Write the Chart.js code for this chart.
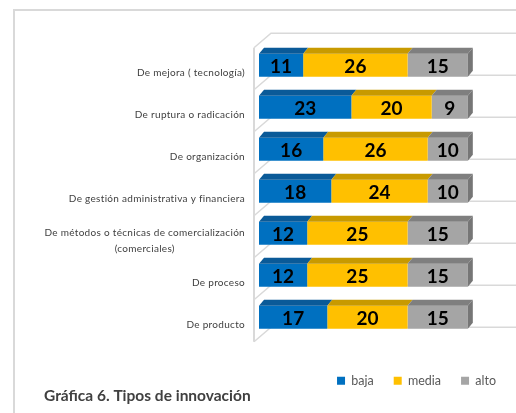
<!DOCTYPE html>
<html>
<head>
<meta charset="utf-8">
<script src="https://cdn.jsdelivr.net/npm/chart.js@4.4.1/dist/chart.umd.min.js"></script>
<style>
  html, body { margin: 0; padding: 0; background: #ffffff; }
  #contenedor { position: relative; width: 516px; height: 413px; }
</style>
</head>
<body>
<div id="contenedor"><canvas id="graficaInnovacion"></canvas></div>
<script>
// Datos de la gráfica
const categorias = [
    'De mejora ( tecnología)',
    'De ruptura o radicación',
    'De organización',
    'De gestión administrativa y financiera',
    ['De métodos o técnicas de comercialización', '(comerciales)'],
    'De proceso',
    'De producto'
];
const series = ['baja', 'media', 'alto'];
const valoresBaja = [11, 23, 16, 18, 12, 12, 17];
const valoresMedia = [26, 20, 26, 24, 25, 25, 20];
const valoresAlto = [15, 9, 10, 10, 15, 15, 15];
const titulo = 'Gráfica 6. Tipos de innovación';

// Colores (cara frontal, cara superior)
const coloresFrente = ['#0070C0', '#FFC000', '#A5A5A5'];
const coloresArriba = ['#0A5A98', '#C89A00', '#7F7F7F'];
const colorLado = '#767676';
const colorRejilla = '#D9D9D9';
const fuente = "'Lato', 'Noto Sans', sans-serif";

// Profundidad del efecto 3D
const prof = { dx: 5, dy: 6 };

// Marco gris del recuadro
const pluginMarco = {
    id: 'marco',
    beforeDraw(chart) {
        const ctx = chart.ctx;
        ctx.save();
        ctx.strokeStyle = colorRejilla;
        ctx.lineWidth = 2;
        ctx.beginPath();
        ctx.moveTo(14, chart.height);
        ctx.lineTo(14, 10);
        ctx.lineTo(chart.width, 10);
        ctx.stroke();
        ctx.restore();
    }
};

// Paredes y líneas de división estilo 3D
const pluginParedes = {
    id: 'paredes',
    beforeDatasetsDraw(chart) {
        const ctx = chart.ctx;
        const area = chart.chartArea;
        const n = categorias.length;
        const paso = (area.bottom - area.top) / n;
        ctx.save();
        ctx.strokeStyle = colorRejilla;
        ctx.lineWidth = 1.5;
        for (let k = 0; k <= n; k++) {
            const b = area.top + k * paso;
            ctx.beginPath();
            ctx.moveTo(area.left - 5, b + 3.5);
            ctx.lineTo(area.left + 12, b - 11);
            ctx.lineTo(area.right, b - 11);
            ctx.stroke();
        }
        ctx.lineWidth = 2;
        ctx.beginPath();
        ctx.moveTo(area.left - 5, area.top + 3.5);
        ctx.lineTo(area.left - 5, area.bottom + 3.5);
        ctx.stroke();
        ctx.restore();
    }
};

// Caras superiores, lado derecho y etiquetas de valores
const pluginBarras3D = {
    id: 'barras3D',
    afterDatasetsDraw(chart) {
        const ctx = chart.ctx;
        const total = chart.data.datasets.length;
        ctx.save();
        chart.data.datasets.forEach((ds, i) => {
            const meta = chart.getDatasetMeta(i);
            meta.data.forEach((el) => {
                const p = el.getProps(['x', 'y', 'base', 'height'], true);
                const izq = Math.min(p.x, p.base);
                const der = Math.max(p.x, p.base);
                const arriba = p.y - p.height / 2;
                const abajo = p.y + p.height / 2;
                ctx.fillStyle = coloresArriba[i];
                ctx.beginPath();
                ctx.moveTo(izq, arriba);
                ctx.lineTo(der, arriba);
                ctx.lineTo(der + prof.dx, arriba - prof.dy);
                ctx.lineTo(izq + prof.dx, arriba - prof.dy);
                ctx.closePath();
                ctx.fill();
                if (i === total - 1) {
                    ctx.fillStyle = colorLado;
                    ctx.beginPath();
                    ctx.moveTo(der, arriba);
                    ctx.lineTo(der + prof.dx, arriba - prof.dy);
                    ctx.lineTo(der + prof.dx, abajo - prof.dy);
                    ctx.lineTo(der, abajo);
                    ctx.closePath();
                    ctx.fill();
                }
            });
        });
        // Etiquetas de valores
        ctx.fillStyle = '#000000';
        ctx.font = "bold 19px " + fuente;
        ctx.textAlign = 'center';
        ctx.textBaseline = 'middle';
        chart.data.datasets.forEach((ds, i) => {
            const meta = chart.getDatasetMeta(i);
            meta.data.forEach((el, j) => {
                const p = el.getProps(['x', 'y', 'base'], true);
                ctx.fillText(String(ds.data[j]), (p.x + p.base) / 2, p.y + 2);
            });
        });
        ctx.restore();
    }
};

// Etiquetas de categorías (bloque alineado a la derecha, líneas centradas)
const pluginCategorias = {
    id: 'categorias',
    afterDraw(chart) {
        const ctx = chart.ctx;
        const yScale = chart.scales.y;
        const derecha = chart.chartArea.left - 14;
        ctx.save();
        ctx.font = "10px " + fuente;
        ctx.letterSpacing = '0.3px';
        ctx.fillStyle = '#404040';
        ctx.textBaseline = 'middle';
        ctx.textAlign = 'center';
        categorias.forEach((cat, i) => {
            const lineas = Array.isArray(cat) ? cat : [cat];
            const ancho = Math.max(...lineas.map(l => ctx.measureText(l).width));
            const cx = derecha - ancho / 2;
            const yc = yScale.getPixelForValue(i) + 7.5;
            lineas.forEach((l, k) => {
                ctx.fillText(l, cx, yc - (lineas.length - 1) * 8 + k * 16);
            });
        });
        // Título de la gráfica
        ctx.letterSpacing = '0px';
        ctx.font = "bold 15.5px " + fuente;
        ctx.textAlign = 'left';
        ctx.textBaseline = 'alphabetic';
        ctx.fillText(titulo, 44, chart.height - 12);
        ctx.restore();
    }
};

const ctx = document.getElementById('graficaInnovacion').getContext('2d');
new Chart(ctx, {
    type: 'bar',
    data: {
        labels: categorias,
        datasets: [
            { label: series[0], data: valoresBaja, backgroundColor: coloresFrente[0] },
            { label: series[1], data: valoresMedia, backgroundColor: coloresFrente[1] },
            { label: series[2], data: valoresAlto, backgroundColor: coloresFrente[2] }
        ]
    },
    options: {
        indexAxis: 'y',
        responsive: true,
        maintainAspectRatio: false,
        animation: false,
        datasets: {
            bar: {
                categoryPercentage: 1,
                barPercentage: 0.552,
                borderWidth: 0
            }
        },
        layout: {
            padding: { top: 44.25, left: 44, right: 0, bottom: 16 }
        },
        scales: {
            x: {
                stacked: true,
                min: 0,
                max: 64,
                display: true,
                grid: { display: false },
                border: { display: false },
                ticks: { display: false },
                afterFit(scale) { scale.height = 16.25; }
            },
            y: {
                stacked: true,
                grid: { display: false, drawTicks: false },
                border: { display: false },
                ticks: { display: false },
                afterFit(scale) { scale.width = 215; }
            }
        },
        plugins: {
            legend: {
                position: 'bottom',
                align: 'end',
                labels: {
                    boxWidth: 8,
                    boxHeight: 8,
                    padding: 20,
                    color: '#595959',
                    font: { family: fuente, size: 12.5 }
                }
            },
            title: { display: false },
            tooltip: { enabled: false }
        }
    },
    plugins: [pluginMarco, pluginParedes, pluginBarras3D, pluginCategorias]
});
</script>
</body>
</html>
